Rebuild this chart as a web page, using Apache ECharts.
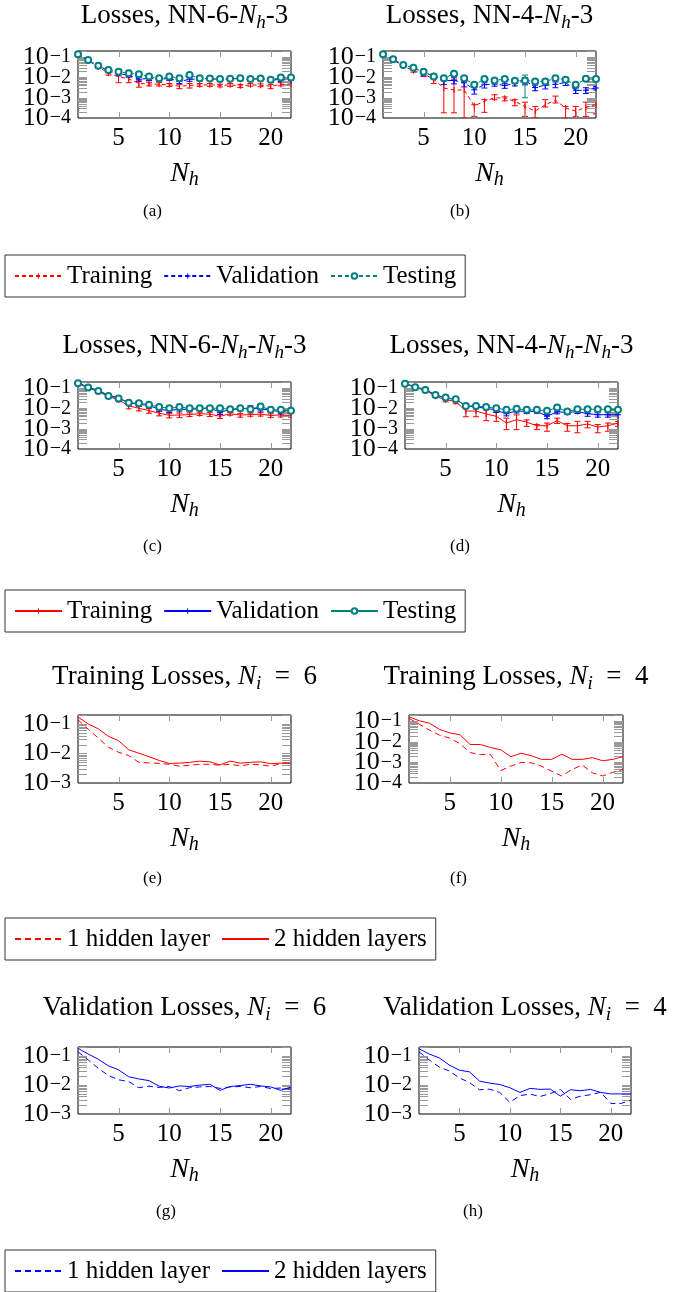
<!DOCTYPE html>
<html>
<head>
<meta charset="utf-8">
<script src="https://cdn.jsdelivr.net/npm/echarts@6/dist/echarts.min.js"></script>
<style>
  html, body { margin: 0; padding: 0; background: #fff; }
  #chart { width: 689px; height: 1292px; }
</style>
</head>
<body>
<div id="chart"></div>
<script>
// x values (hidden units)
const nh = [1, 2, 3, 4, 5, 6, 7, 8, 9, 10, 11, 12, 13, 14, 15, 16, 17, 18, 19, 20, 21, 22];
const xTicks = [5, 10, 15, 20];
const yMajor = [1e-4, 1e-3, 1e-2, 1e-1];
const Y_MAX = 0.2;

// each point: [mean, lower, upper]
// (a) NN-6-Nh-3
const trainA = [[0.137,0.125,0.15],[0.067,0.06,0.075],[0.033,0.028,0.04],[0.0162,0.013,0.02],[0.011,0.0055,0.016],[0.0085,0.0055,0.011],[0.005,0.0033,0.0068],[0.0048,0.0038,0.0058],[0.0046,0.0038,0.0055],[0.0043,0.0036,0.005],[0.0037,0.0028,0.0046],[0.004,0.003,0.005],[0.0043,0.0036,0.005],[0.0043,0.0036,0.005],[0.004,0.0034,0.0046],[0.0043,0.0036,0.005],[0.0038,0.0032,0.0045],[0.0043,0.0037,0.005],[0.0041,0.0035,0.0048],[0.0037,0.0028,0.0045],[0.0045,0.0038,0.0055],[0.0048,0.004,0.0057]];
const validA = [[0.137,0.13,0.145],[0.072,0.066,0.078],[0.037,0.032,0.042],[0.021,0.018,0.025],[0.015,0.012,0.019],[0.013,0.0102,0.016],[0.008,0.0062,0.0098],[0.009,0.007,0.011],[0.0082,0.0065,0.0099],[0.0088,0.007,0.0106],[0.0063,0.005,0.0078],[0.008,0.0064,0.0096],[0.0085,0.0068,0.0102],[0.0088,0.0071,0.0105],[0.0076,0.0062,0.009],[0.0085,0.0069,0.0101],[0.0088,0.0068,0.0108],[0.008,0.0066,0.0094],[0.0088,0.0071,0.0105],[0.0075,0.0059,0.0091],[0.0078,0.0063,0.0093],[0.0072,0.006,0.0084]];
const testA = [[0.137,0.13,0.145],[0.072,0.067,0.078],[0.037,0.033,0.042],[0.023,0.02,0.027],[0.019,0.016,0.022],[0.016,0.014,0.019],[0.0145,0.0125,0.0165],[0.011,0.0095,0.0128],[0.0091,0.0078,0.0105],[0.011,0.0095,0.0128],[0.0091,0.0077,0.0107],[0.013,0.0112,0.015],[0.0091,0.0078,0.0105],[0.0088,0.0075,0.0102],[0.0083,0.0071,0.0096],[0.0085,0.0073,0.0098],[0.0091,0.0076,0.0108],[0.0083,0.0072,0.0095],[0.0088,0.0075,0.0102],[0.0076,0.0064,0.009],[0.01,0.0087,0.0115],[0.01,0.0088,0.0114]];
// (b) NN-4-Nh-3
const trainB = [[0.137,0.125,0.15],[0.072,0.065,0.08],[0.037,0.033,0.042],[0.021,0.018,0.025],[0.015,0.011,0.019],[0.0081,0.005,0.011],[0.003,0.00018,0.0076],[0.0024,0.00018,0.0076],[0.0024,0.0001,0.0063],[0.0004,0.00012,0.00045],[0.00066,0.00019,0.0008],[0.001,0.0008,0.0014],[0.00095,0.0007,0.0011],[0.00066,0.0004,0.0008],[0.00037,0.00012,0.0006],[0.00022,0.0001,0.00037],[0.00045,0.00035,0.0008],[0.00075,0.00055,0.0012],[0.00031,0.0001,0.00037],[0.00022,0.00012,0.00037],[0.00033,0.00012,0.0006],[0.00046,0.00016,0.0008]];
const validB = [[0.137,0.13,0.145],[0.072,0.066,0.078],[0.041,0.036,0.046],[0.03,0.026,0.034],[0.0174,0.012,0.023],[0.012,0.0085,0.015],[0.0068,0.0045,0.009],[0.0071,0.0048,0.0095],[0.0055,0.0034,0.0077],[0.0025,0.0015,0.0033],[0.0043,0.003,0.0054],[0.0048,0.0037,0.0059],[0.004,0.0029,0.0049],[0.005,0.0038,0.0062],[0.007,0.0043,0.0097],[0.0032,0.0022,0.0042],[0.0041,0.0027,0.0054],[0.0046,0.0031,0.006],[0.0056,0.004,0.0072],[0.0023,0.0016,0.003],[0.0023,0.0016,0.0031],[0.003,0.0024,0.0036]];
const testB = [[0.137,0.13,0.145],[0.078,0.072,0.084],[0.041,0.037,0.046],[0.03,0.027,0.034],[0.019,0.016,0.022],[0.011,0.0092,0.013],[0.0091,0.0076,0.011],[0.015,0.011,0.019],[0.0091,0.0072,0.011],[0.0043,0.0033,0.0055],[0.0083,0.007,0.0098],[0.0071,0.0058,0.0085],[0.0083,0.0068,0.0098],[0.0068,0.0055,0.0082],[0.0071,0.001,0.013],[0.0063,0.0052,0.0075],[0.0063,0.005,0.0077],[0.0091,0.0077,0.0106],[0.0076,0.0062,0.009],[0.0043,0.0034,0.0053],[0.0085,0.0072,0.0099],[0.0083,0.007,0.0097]];
// (c) NN-6-Nh-Nh-3
const trainC = [[0.17,0.16,0.18],[0.1,0.092,0.108],[0.068,0.06,0.076],[0.038,0.032,0.045],[0.027,0.021,0.033],[0.0133,0.0095,0.017],[0.0102,0.0075,0.013],[0.0078,0.0058,0.0098],[0.0058,0.0043,0.0073],[0.0046,0.0034,0.0058],[0.0047,0.0035,0.0059],[0.005,0.004,0.006],[0.0055,0.0045,0.0065],[0.0052,0.004,0.0064],[0.0041,0.0032,0.005],[0.0055,0.0046,0.0064],[0.0047,0.0037,0.0057],[0.005,0.0041,0.0059],[0.0052,0.0042,0.0062],[0.0045,0.0036,0.0054],[0.0047,0.0038,0.0056],[0.0046,0.0037,0.0055]];
const validC = [[0.18,0.17,0.19],[0.115,0.107,0.123],[0.076,0.069,0.083],[0.045,0.04,0.05],[0.033,0.028,0.038],[0.019,0.016,0.023],[0.016,0.013,0.019],[0.014,0.0115,0.0165],[0.009,0.0073,0.011],[0.0078,0.0062,0.0094],[0.0092,0.0074,0.011],[0.0088,0.0072,0.0104],[0.0098,0.008,0.0116],[0.0105,0.0085,0.0125],[0.0065,0.0052,0.0078],[0.0088,0.0072,0.0104],[0.0095,0.0078,0.0112],[0.0105,0.0075,0.0135],[0.0092,0.0074,0.011],[0.0085,0.007,0.01],[0.0065,0.0053,0.0077],[0.0085,0.007,0.01]];
const testC = [[0.175,0.165,0.185],[0.106,0.099,0.113],[0.072,0.066,0.078],[0.041,0.037,0.045],[0.031,0.027,0.035],[0.019,0.016,0.022],[0.018,0.015,0.021],[0.015,0.0128,0.0172],[0.0117,0.0099,0.0135],[0.0102,0.0086,0.0118],[0.0117,0.0098,0.0136],[0.0102,0.0087,0.0117],[0.0102,0.0086,0.0118],[0.0102,0.0085,0.0119],[0.0102,0.0087,0.0117],[0.0091,0.0078,0.0104],[0.0102,0.0086,0.0118],[0.0091,0.0077,0.0105],[0.0125,0.0106,0.0144],[0.0085,0.0072,0.0098],[0.0085,0.0072,0.0098],[0.0076,0.0064,0.0088]];
// (d) NN-4-Nh-Nh-3
const trainD = [[0.165,0.155,0.175],[0.105,0.097,0.113],[0.08,0.073,0.087],[0.04,0.034,0.046],[0.027,0.021,0.033],[0.022,0.017,0.027],[0.0074,0.0039,0.0117],[0.0074,0.0039,0.0117],[0.0053,0.0025,0.0102],[0.0041,0.0023,0.0063],[0.0019,0.0009,0.0033],[0.0028,0.0009,0.0048],[0.0021,0.0013,0.0027],[0.0014,0.0009,0.0016],[0.0014,0.00075,0.0019],[0.0025,0.0018,0.0033],[0.0014,0.00075,0.0018],[0.0014,0.00063,0.0023],[0.0017,0.0011,0.0023],[0.0012,0.00063,0.0016],[0.0014,0.00075,0.0019],[0.0019,0.0013,0.0023]];
const validD = [[0.175,0.165,0.185],[0.115,0.107,0.123],[0.085,0.078,0.092],[0.048,0.043,0.053],[0.032,0.027,0.037],[0.028,0.024,0.032],[0.0135,0.011,0.016],[0.0115,0.0095,0.0135],[0.0103,0.0085,0.012],[0.008,0.0064,0.0096],[0.0055,0.0043,0.0067],[0.0076,0.006,0.0092],[0.007,0.0056,0.0084],[0.0072,0.0058,0.0086],[0.0041,0.0031,0.0051],[0.0068,0.0054,0.0082],[0.0063,0.005,0.0076],[0.007,0.0056,0.0084],[0.0055,0.0041,0.0069],[0.0049,0.0037,0.0061],[0.0049,0.0037,0.0061],[0.0049,0.0039,0.0059]];
const testD = [[0.165,0.155,0.175],[0.11,0.103,0.117],[0.08,0.074,0.086],[0.046,0.042,0.05],[0.034,0.03,0.038],[0.028,0.025,0.031],[0.0133,0.0115,0.0151],[0.0133,0.0115,0.0151],[0.0117,0.0101,0.0133],[0.0102,0.0088,0.0116],[0.0085,0.0073,0.0097],[0.0095,0.0082,0.0108],[0.0085,0.0072,0.0098],[0.0085,0.0073,0.0097],[0.0076,0.0065,0.0087],[0.011,0.0095,0.0125],[0.0071,0.006,0.0082],[0.0091,0.0078,0.0104],[0.0091,0.0078,0.0104],[0.0091,0.0078,0.0104],[0.0091,0.0078,0.0104],[0.0085,0.0073,0.0097]];

const titles = [
  'Losses, NN-6-{i|N}{s|h}-3',
  'Losses, NN-4-{i|N}{s|h}-3',
  'Losses, NN-6-{i|N}{s|h}-{i|N}{s|h}-3',
  'Losses, NN-4-{i|N}{s|h}-{i|N}{s|h}-3',
  'Training Losses, {i|N}{s|i}  =  6',
  'Training Losses, {i|N}{s|i}  =  4',
  'Validation Losses, {i|N}{s|i}  =  6',
  'Validation Losses, {i|N}{s|i}  =  4'
];
const captions = ['(a)', '(b)', '(c)', '(d)', '(e)', '(f)', '(g)', '(h)'];

const RED = '#ff0000', BLUE = '#0000ff', TEAL = '#008080', TICK = '#999999';
const FONT = 'Liberation Serif';

// plot boxes
const panels = [
  { l: 78,  t: 51,   w: 213, h: 67, ymin: 1e-4, tt: 0,    cx: 155, cy: 213 },
  { l: 383, t: 51,   w: 213, h: 67, ymin: 1e-4, tt: 0,    cx: 462, cy: 213 },
  { l: 78,  t: 382,  w: 213, h: 67, ymin: 1e-4, tt: 330,  cx: 155, cy: 548 },
  { l: 405, t: 382,  w: 213, h: 67, ymin: 1e-4, tt: 330,  cx: 462, cy: 548 },
  { l: 78,  t: 715,  w: 213, h: 68, ymin: 1e-3, tt: 661,  cx: 155, cy: 880 },
  { l: 409, t: 715,  w: 214, h: 68, ymin: 1e-4, tt: 661,  cx: 462, cy: 880 },
  { l: 78,  t: 1047, w: 213, h: 67, ymin: 1e-3, tt: 992,  cx: 168, cy: 1213 },
  { l: 419, t: 1047, w: 212, h: 67, ymin: 1e-3, tt: 992,  cx: 475, cy: 1213 }
];

const barMark = 'path://M0,0M6,6M2.5,0h1v6h-1z';
const plusMark = 'path://M2.5,0h1v2.5h2.5v1h-2.5v2.5h-1v-2.5h-2.5v-1h2.5z';

// log ticks 1..9 x 10^e inside the axis range
function logTicks(ymin) {
  const out = [];
  for (let e = Math.round(Math.log10(ymin)); e < 0; e++) {
    for (let m = 1; m < 10; m++) {
      const v = m * Math.pow(10, e);
      if (v > ymin && v <= Y_MAX) out.push(v);
    }
  }
  return out;
}

const subRich = {
  i: { fontFamily: FONT, fontStyle: 'italic', fontSize: 27, lineHeight: 32, color: '#000' },
  s: { fontFamily: FONT, fontStyle: 'italic', fontSize: 19, lineHeight: 20, verticalAlign: 'bottom', color: '#000' }
};
const nameRich = {
  i: { fontFamily: FONT, fontStyle: 'italic', fontSize: 28, lineHeight: 32, color: '#000' },
  s: { fontFamily: FONT, fontStyle: 'italic', fontSize: 20, lineHeight: 20, verticalAlign: 'bottom', color: '#000' }
};
const powRich = {
  b: { fontFamily: FONT, fontSize: 26, lineHeight: 20, color: '#000' },
  e: { fontFamily: FONT, fontSize: 20, lineHeight: 10, verticalAlign: 'top', padding: [0, 0, 0, 1], color: '#000' }
};
const powLabel = v => '{b|10}{e|\u2212' + Math.round(-Math.log10(v)) + '}';

const Y_PER = 2; // two left y axes per panel so the crowded labels alternate
const grid = [], xAxis = [], yAxis = [], title = [], graphic = [];
panels.forEach((p, k) => {
  grid.push({ left: p.l, top: p.t, width: p.w, height: p.h, show: true,
    borderColor: '#000', borderWidth: 1, backgroundColor: 'transparent', outerBoundsMode: 'none' });
  xAxis.push({ type: 'value', gridIndex: k, min: 1, max: 22, position: 'bottom',
    axisLine: { show: false }, splitLine: { show: false }, axisTick: { show: false },
    axisLabel: { customValues: xTicks, fontFamily: FONT, fontSize: 25, color: '#000', margin: 8 },
    name: '{i|N}{s|h}', nameLocation: 'middle', nameGap: 40,
    nameTextStyle: { fontFamily: FONT, fontSize: 28, lineHeight: 32, color: '#000', rich: nameRich } });
  const majors = yMajor.filter(v => v >= p.ymin);
  const yBase = { type: 'log', gridIndex: k, min: p.ymin, max: Y_MAX, position: 'left',
    axisLine: { show: false }, splitLine: { show: false }, axisTick: { show: false } };
  yAxis.push(Object.assign({}, yBase, {
    axisLabel: { customValues: majors.filter((v, i) => i % 2 === 0), margin: 7,
      showMinLabel: true, showMaxLabel: true, formatter: powLabel, rich: powRich } }));
  yAxis.push(Object.assign({}, yBase, {
    axisLabel: { customValues: majors.filter((v, i) => i % 2 === 1), margin: 7,
      showMinLabel: true, showMaxLabel: true, formatter: powLabel, rich: powRich } }));
  title.push({ text: titles[k], left: p.l + p.w / 2, top: p.tt, textAlign: 'center', padding: 0,
    textStyle: { fontFamily: FONT, fontSize: 27, lineHeight: 32, fontWeight: 'normal', color: '#000', rich: subRich } });
  graphic.push({ type: 'text', left: p.cx - 12, top: p.cy - 10,
    style: { text: captions[k], fontFamily: FONT, fontSize: 17, fill: '#000' } });
});

// gray inward ticks on all four sides, placed through the axis scales
function yTickSeries(k) {
  return {
    type: 'custom', coordinateSystem: 'cartesian2d', xAxisIndex: k, yAxisIndex: Y_PER * k,
    silent: true, z: 3,
    data: logTicks(panels[k].ymin).map(v => [1, v]),
    encode: { x: 0, y: 1 },
    renderItem: function (params, api) {
      const cs = params.coordSys;
      const y = Math.round(api.coord([1, api.value(1)])[1]) + 0.5;
      const st = { stroke: TICK, lineWidth: 1 };
      return { type: 'group', children: [
        { type: 'line', shape: { x1: cs.x, y1: y, x2: cs.x + 9, y2: y }, style: st },
        { type: 'line', shape: { x1: cs.x + cs.width - 9, y1: y, x2: cs.x + cs.width, y2: y }, style: st }
      ] };
    }
  };
}
function xTickSeries(k) {
  return {
    type: 'custom', coordinateSystem: 'cartesian2d', xAxisIndex: k, yAxisIndex: Y_PER * k,
    silent: true, z: 3,
    data: xTicks.map(v => [v, 0.01]),
    encode: { x: 0, y: 1 },
    renderItem: function (params, api) {
      const cs = params.coordSys;
      const x = Math.round(api.coord([api.value(0), api.value(1)])[0]) + 0.5;
      const st = { stroke: TICK, lineWidth: 1 };
      return { type: 'group', children: [
        { type: 'line', shape: { x1: x, y1: cs.y, x2: x, y2: cs.y + 6 }, style: st },
        { type: 'line', shape: { x1: x, y1: cs.y + cs.height - 6, x2: x, y2: cs.y + cs.height }, style: st }
      ] };
    }
  };
}

function errSeries(k, data, color) {
  return {
    type: 'custom', xAxisIndex: k, yAxisIndex: Y_PER * k, silent: true, clip: true,
    data: data.map((p, i) => [nh[i], p[1], p[2]]),
    encode: { x: 0, y: [1, 2] },
    renderItem: function (params, api) {
      const x = api.value(0);
      const a = api.coord([x, api.value(1)]);
      const b = api.coord([x, api.value(2)]);
      const st = { stroke: color, lineWidth: 1 };
      return { type: 'group', children: [
        { type: 'line', shape: { x1: a[0], y1: a[1], x2: b[0], y2: b[1] }, style: st },
        { type: 'line', shape: { x1: a[0] - 3, y1: a[1], x2: a[0] + 3, y2: a[1] }, style: st },
        { type: 'line', shape: { x1: b[0] - 3, y1: b[1], x2: b[0] + 3, y2: b[1] }, style: st }
      ] };
    }
  };
}
function lineSeries(k, name, data, color, dash, symbol, size) {
  return {
    type: 'line', name: name, xAxisIndex: k, yAxisIndex: Y_PER * k, silent: true,
    data: data.map((p, i) => [nh[i], p[0]]),
    lineStyle: { color: color, width: 1, type: dash },
    itemStyle: { color: color, borderWidth: 1 },
    symbol: symbol, symbolSize: size, showSymbol: symbol !== 'none'
  };
}

const series = [];
const errPanels = [
  [trainA, validA, testA, [4, 3], 'a'],
  [trainB, validB, testB, [4, 3], 'b'],
  [trainC, validC, testC, 'solid', 'c'],
  [trainD, validD, testD, 'solid', 'd']
];
errPanels.forEach((e, k) => {
  const [tr, va, te, dash, tag] = e;
  series.push(errSeries(k, tr, RED));
  series.push(lineSeries(k, 'Training#' + tag, tr, RED, dash, barMark, 6));
  series.push(errSeries(k, va, BLUE));
  series.push(lineSeries(k, 'Validation#' + tag, va, BLUE, dash, plusMark, 6));
  series.push(errSeries(k, te, TEAL));
  series.push(lineSeries(k, 'Testing#' + tag, te, TEAL, dash, 'emptyCircle', 6));
});
const cmpPanels = [
  [trainA, trainC, RED, 'e'],
  [trainB, trainD, RED, 'f'],
  [validA, validC, BLUE, 'g'],
  [validB, validD, BLUE, 'h']
];
cmpPanels.forEach((c, j) => {
  const [one, two, color, tag] = c;
  series.push(lineSeries(4 + j, '1 hidden layer#' + tag, one, color, [6, 4], 'none', 0));
  series.push(lineSeries(4 + j, '2 hidden layers#' + tag, two, color, 'solid', 'none', 0));
});
panels.forEach((p, k) => { series.push(yTickSeries(k)); series.push(xTickSeries(k)); });

function legendAt(top, names, hideMark) {
  return {
    data: names, left: 5, top: top, orient: 'horizontal', selectedMode: false,
    itemWidth: 47, itemHeight: 7, itemGap: 11, padding: [7, 9],
    borderColor: '#333', borderWidth: 1,
    itemStyle: hideMark ? { opacity: 0 } : {},
    formatter: n => n.split('#')[0],
    textStyle: { fontFamily: FONT, fontSize: 25, lineHeight: 28, color: '#000' }
  };
}

const chart = echarts.init(document.getElementById('chart'), null, { renderer: 'canvas' });
chart.setOption({
  animation: false,
  backgroundColor: '#fff',
  title: title,
  grid: grid,
  xAxis: xAxis,
  yAxis: yAxis,
  legend: [
    legendAt(255, ['Training#a', 'Validation#a', 'Testing#a'], false),
    legendAt(590, ['Training#c', 'Validation#c', 'Testing#c'], false),
    legendAt(918, ['1 hidden layer#e', '2 hidden layers#e'], true),
    legendAt(1250, ['1 hidden layer#g', '2 hidden layers#g'], true)
  ],
  graphic: graphic,
  series: series
});
</script>
</body>
</html>
